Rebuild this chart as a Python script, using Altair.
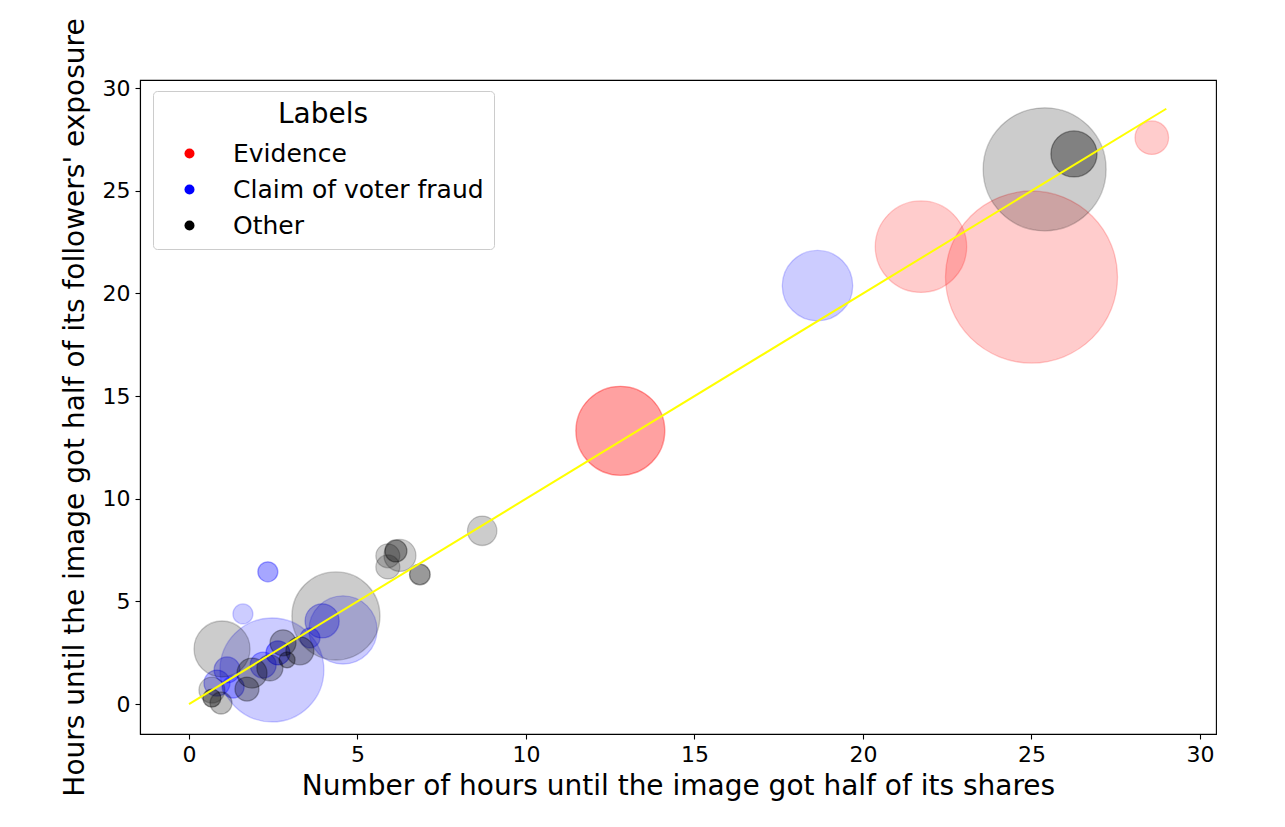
import altair as alt
import pandas as pd

# ---- data ----
ev_x = [12.80, 21.72, 25.00, 28.57]
ev_y = [13.31, 22.28, 20.80, 27.59]
ev_m = [1980, 2090, 7400, 282]
ev_a = [0.37, 0.2, 0.2, 0.2]

cl_x = [18.65, 2.34, 1.60, 2.46, 4.57, 3.95, 3.59, 2.64, 2.20, 1.13, 0.83, 1.31]
cl_y = [20.38, 6.44, 4.39, 1.66, 3.61, 4.05, 3.22, 2.49, 1.90, 1.66, 1.02, 0.83]
cl_m = [1240, 100, 100, 2700, 1160, 290, 100, 144, 169, 169, 169, 121]
cl_a = [0.2, 0.35, 0.2, 0.2, 0.2, 0.3, 0.3, 0.4, 0.3, 0.3, 0.3, 0.3]

ot_x = [25.39, 26.26, 8.70, 6.85, 5.90, 5.90, 6.14, 6.26, 4.36, 0.98, 2.79, 2.91, 3.29, 1.87, 1.72, 0.68, 0.68, 0.95, 2.40]
ot_y = [26.05, 26.80, 8.44, 6.31, 7.22, 6.68, 7.46, 7.24, 4.29, 2.68, 2.98, 2.15, 2.59, 1.51, 0.73, 0.68, 0.29, 0.05, 1.76]
ot_m = [3780, 530, 216, 106, 144, 144, 121, 256, 1940, 784, 169, 64, 196, 225, 144, 169, 81, 121, 169]
ot_a = [0.2, 0.37, 0.2, 0.4, 0.2, 0.2, 0.35, 0.2, 0.2, 0.2, 0.3, 0.35, 0.3, 0.3, 0.3, 0.2, 0.4, 0.25, 0.3]

categories = ["Evidence", "Claim of voter fraud", "Other"]
cat_colors = ["red", "blue", "black"]

line_x = [0, 29]
line_y = [0, 29]

x_ticks = [0, 5, 10, 15, 20, 25, 30]
y_ticks = [0, 5, 10, 15, 20, 25, 30]

rows = []
for cat, xs, ys, ms, als in [
    ("Evidence", ev_x, ev_y, ev_m, ev_a),
    ("Claim of voter fraud", cl_x, cl_y, cl_m, cl_a),
    ("Other", ot_x, ot_y, ot_m, ot_a),
]:
    for x, y, m, a in zip(xs, ys, ms, als):
        rows.append({"x": x, "y": y, "m": m, "alpha": a, "label": cat})
df = pd.DataFrame(rows)
line_df = pd.DataFrame({"x": line_x, "y": line_y})

xscale = alt.Scale(domain=[-1.454, 30.475], nice=False, zero=False)
yscale = alt.Scale(domain=[-1.46, 30.40], nice=False, zero=False)
cscale = alt.Scale(domain=categories, range=cat_colors)

xaxis = alt.Axis(title="Number of hours until the image got half of its shares",
                 values=x_ticks, titlePadding=7)
yaxis = alt.Axis(title="Hours until the image got half of its followers' exposure",
                 values=y_ticks, titlePadding=13)

legend = alt.Legend(
    title="Labels",
    orient="none",
    legendX=13,
    legendY=11,
    fillColor="white",
    strokeColor="#cccccc",
    cornerRadius=4,
    padding=10,
    titleFont="DejaVu Sans",
    labelFont="DejaVu Sans",
    titleFontSize=28,
    titleFontWeight="normal",
    titleColor="black",
    titleAnchor="middle",
    titlePadding=12,
    labelFontSize=25,
    labelColor="black",
    labelLimit=0,
    symbolType="circle",
    symbolSize=100,
    symbolOpacity=1,
    symbolStrokeWidth=0,
    symbolOffset=14,
    labelOffset=31,
    rowPadding=10,
)

points = alt.Chart(df).mark_point(filled=True, shape="circle", strokeWidth=1.3, opacity=1).encode(
    x=alt.X("x:Q", scale=xscale, axis=xaxis),
    y=alt.Y("y:Q", scale=yscale, axis=yaxis),
    color=alt.Color("label:N", scale=cscale, legend=legend),
    stroke=alt.Stroke("label:N", scale=cscale, legend=legend),
    size=alt.Size("m:Q", scale=alt.Scale(type="linear", domain=[0, 10000], range=[0, 40000]), legend=None),
    fillOpacity=alt.FillOpacity("alpha:Q", scale=None),
    strokeOpacity=alt.StrokeOpacity("alpha:Q", scale=None),
)

line = alt.Chart(line_df).mark_line(color="yellow", strokeWidth=2).encode(
    x=alt.X("x:Q", scale=xscale),
    y=alt.Y("y:Q", scale=yscale),
)

chart = (
    alt.layer(points, line)
    .properties(
        width=1076,
        height=654,
        autosize=alt.AutoSizeParams(type="none"),
        padding={"left": 132, "top": 72, "right": 60, "bottom": 80},
    )
    .configure_view(stroke="black", strokeWidth=1.1)
    .configure_axis(
        grid=False,
        domainColor="black",
        domainWidth=1.1,
        tickColor="black",
        tickWidth=1.1,
        tickSize=5,
        labelColor="black",
        titleColor="black",
        labelFont="DejaVu Sans",
        titleFont="DejaVu Sans",
        labelFontSize=22,
        titleFontSize=28,
        titleFontWeight="normal",
        labelPadding=5,
    )
)

chart.save("out.html", embed_options={"renderer": "svg", "actions": False})
